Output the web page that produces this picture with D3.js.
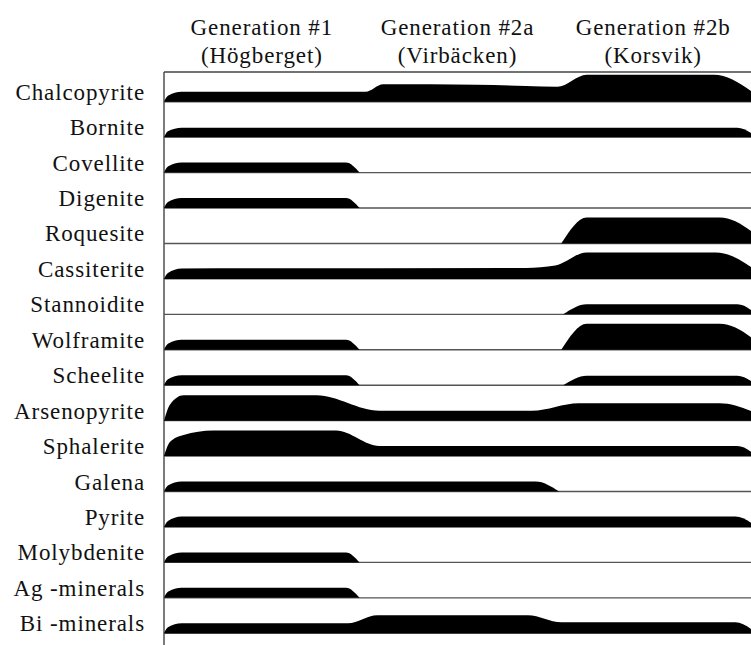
<!DOCTYPE html>
<html>
<head>
<meta charset="utf-8">
<script src="https://cdn.jsdelivr.net/npm/d3@7"></script>
<style>
  body { margin: 0; background: #fff; }
  svg text { font-family: "Times New Roman", Times, "Liberation Serif", Tinos, "Noto Serif", "DejaVu Serif", serif; }
</style>
</head>
<body>
<svg id="chart"></svg>
<script>
var minerals = ["Chalcopyrite", "Bornite", "Covellite", "Digenite", "Roquesite", "Cassiterite",
  "Stannoidite", "Wolframite", "Scheelite", "Arsenopyrite", "Sphalerite", "Galena", "Pyrite",
  "Molybdenite", "Ag -minerals", "Bi -minerals"];
var generations = ["Generation #1", "Generation #2a", "Generation #2b"];
var localities = ["(Högberget)", "(Virbäcken)", "(Korsvik)"];

// each mineral: list of segments, each segment = [generation position, relative abundance] knots
var chalcopyrite = [[[0,0],[0.02,0.6],[0.09,1],[1.03,1],[1.12,1.75],[1.6,1.7],[1.85,1.58],[2.01,1.5],[2.16,2.7],[2.81,2.7],[3.07,0]]];
var bornite = [[[0,0],[0.02,0.6],[0.09,0.95],[2.93,0.95],[3.03,0]]];
var covellite = [[[0,0],[0.02,0.6],[0.09,1],[0.93,1],[1.0,0]]];
var digenite = [[[0,0],[0.02,0.6],[0.09,1],[0.93,1],[1.0,0]]];
var roquesite = [[[2.03,0],[2.16,2.6],[2.84,2.6],[3.08,0]]];
var cassiterite = [[[0,0],[0.02,0.6],[0.09,1.05],[1.85,1.1],[2.0,1.35],[2.16,2.65],[2.82,2.65],[3.08,0]]];
var stannoidite = [[[2.04,0],[2.16,1],[2.93,1],[3.03,0]]];
var wolframite = [[[0,0],[0.02,0.6],[0.09,1],[0.93,1],[1.0,0]], [[2.03,0],[2.16,2.6],[2.84,2.6],[3.08,0]]];
var scheelite = [[[0,0],[0.02,0.6],[0.09,1],[0.93,1],[1.0,0]], [[2.04,0],[2.16,0.95],[2.93,0.95],[3.03,0]]];
var arsenopyrite = [[[0,0],[0.03,1.6],[0.1,2.55],[0.78,2.55],[1.1,1.0],[1.88,1.0],[2.12,1.75],[2.84,1.75],[3.1,0]]];
var sphalerite = [[[0,0],[0.03,1.4],[0.1,2.1],[0.25,2.55],[0.88,2.55],[1.1,1.0],[2.93,1.0],[3.03,0]]];
var galena = [[[0,0],[0.02,0.6],[0.09,1],[1.9,1],[2.02,0]]];
var pyrite = [[[0,0],[0.02,0.6],[0.09,1.05],[2.92,1.05],[3.03,0]]];
var molybdenite = [[[0,0],[0.02,0.6],[0.09,1],[0.93,1],[1.0,0]]];
var agMinerals = [[[0,0],[0.02,0.6],[0.09,1],[0.93,1],[1.0,0]]];
var biMinerals = [[[0,0],[0.02,0.6],[0.09,1],[0.94,1],[1.09,1.8],[1.86,1.8],[2.03,1.1],[2.92,1.1],[3.03,0]]];

var shapes = [chalcopyrite, bornite, covellite, digenite, roquesite, cassiterite, stannoidite,
  wolframite, scheelite, arsenopyrite, sphalerite, galena, pyrite, molybdenite, agMinerals, biMinerals];

var width = 751,
    height = 645,
    marginLeft = 164,
    frameTop = 72;

var svg = d3.select("#chart")
    .attr("width", width)
    .attr("height", height);

var x = d3.scaleLinear().domain([0, 3]).range([marginLeft, width]);
var y = d3.scalePoint().domain(minerals).range([101.7, 633.3]);
var thick = d3.scaleLinear().domain([0, 3]).range([0, 30]);

var area = d3.area()
    .curve(d3.curveMonotoneX)
    .x(function(d) { return x(d[0]); })
    .y0(0)
    .y1(function(d) { return -thick(d[1]); });

// header
var head = svg.selectAll("g.head")
    .data(generations)
    .enter().append("g")
    .attr("class", "head")
    .attr("transform", function(d, i) { return "translate(" + x(i + 0.5) + ",0)"; });
head.append("text")
    .attr("y", 35)
    .attr("text-anchor", "middle")
    .style("font-size", "23px")
    .style("letter-spacing", "0.9px")
    .style("fill", "#111")
    .text(function(d) { return d; });
head.append("text")
    .attr("y", 63)
    .attr("text-anchor", "middle")
    .style("font-size", "23px")
    .style("letter-spacing", "0.9px")
    .style("fill", "#111")
    .text(function(d, i) { return localities[i]; });

// frame
svg.append("line")
    .attr("x1", marginLeft).attr("x2", width)
    .attr("y1", frameTop).attr("y2", frameTop)
    .style("stroke", "#444").style("stroke-width", 1.4);
svg.append("line")
    .attr("x1", marginLeft).attr("x2", marginLeft)
    .attr("y1", frameTop).attr("y2", height)
    .style("stroke", "#444").style("stroke-width", 1.4);

var row = svg.selectAll("g.row")
    .data(minerals)
    .enter().append("g")
    .attr("class", "row")
    .attr("transform", function(d) { return "translate(0," + y(d) + ")"; });

row.append("line")
    .attr("x1", marginLeft).attr("x2", width)
    .style("stroke", "#555").style("stroke-width", 1.4);

row.selectAll("path")
    .data(function(d, i) { return shapes[i]; })
    .enter().append("path")
    .attr("d", area)
    .style("fill", "#000");

row.append("text")
    .attr("x", 145)
    .attr("y", -2)
    .attr("text-anchor", "end")
    .style("font-size", "23px")
    .style("letter-spacing", "0.9px")
    .style("fill", "#111")
    .text(function(d) { return d; });
</script>
</body>
</html>
